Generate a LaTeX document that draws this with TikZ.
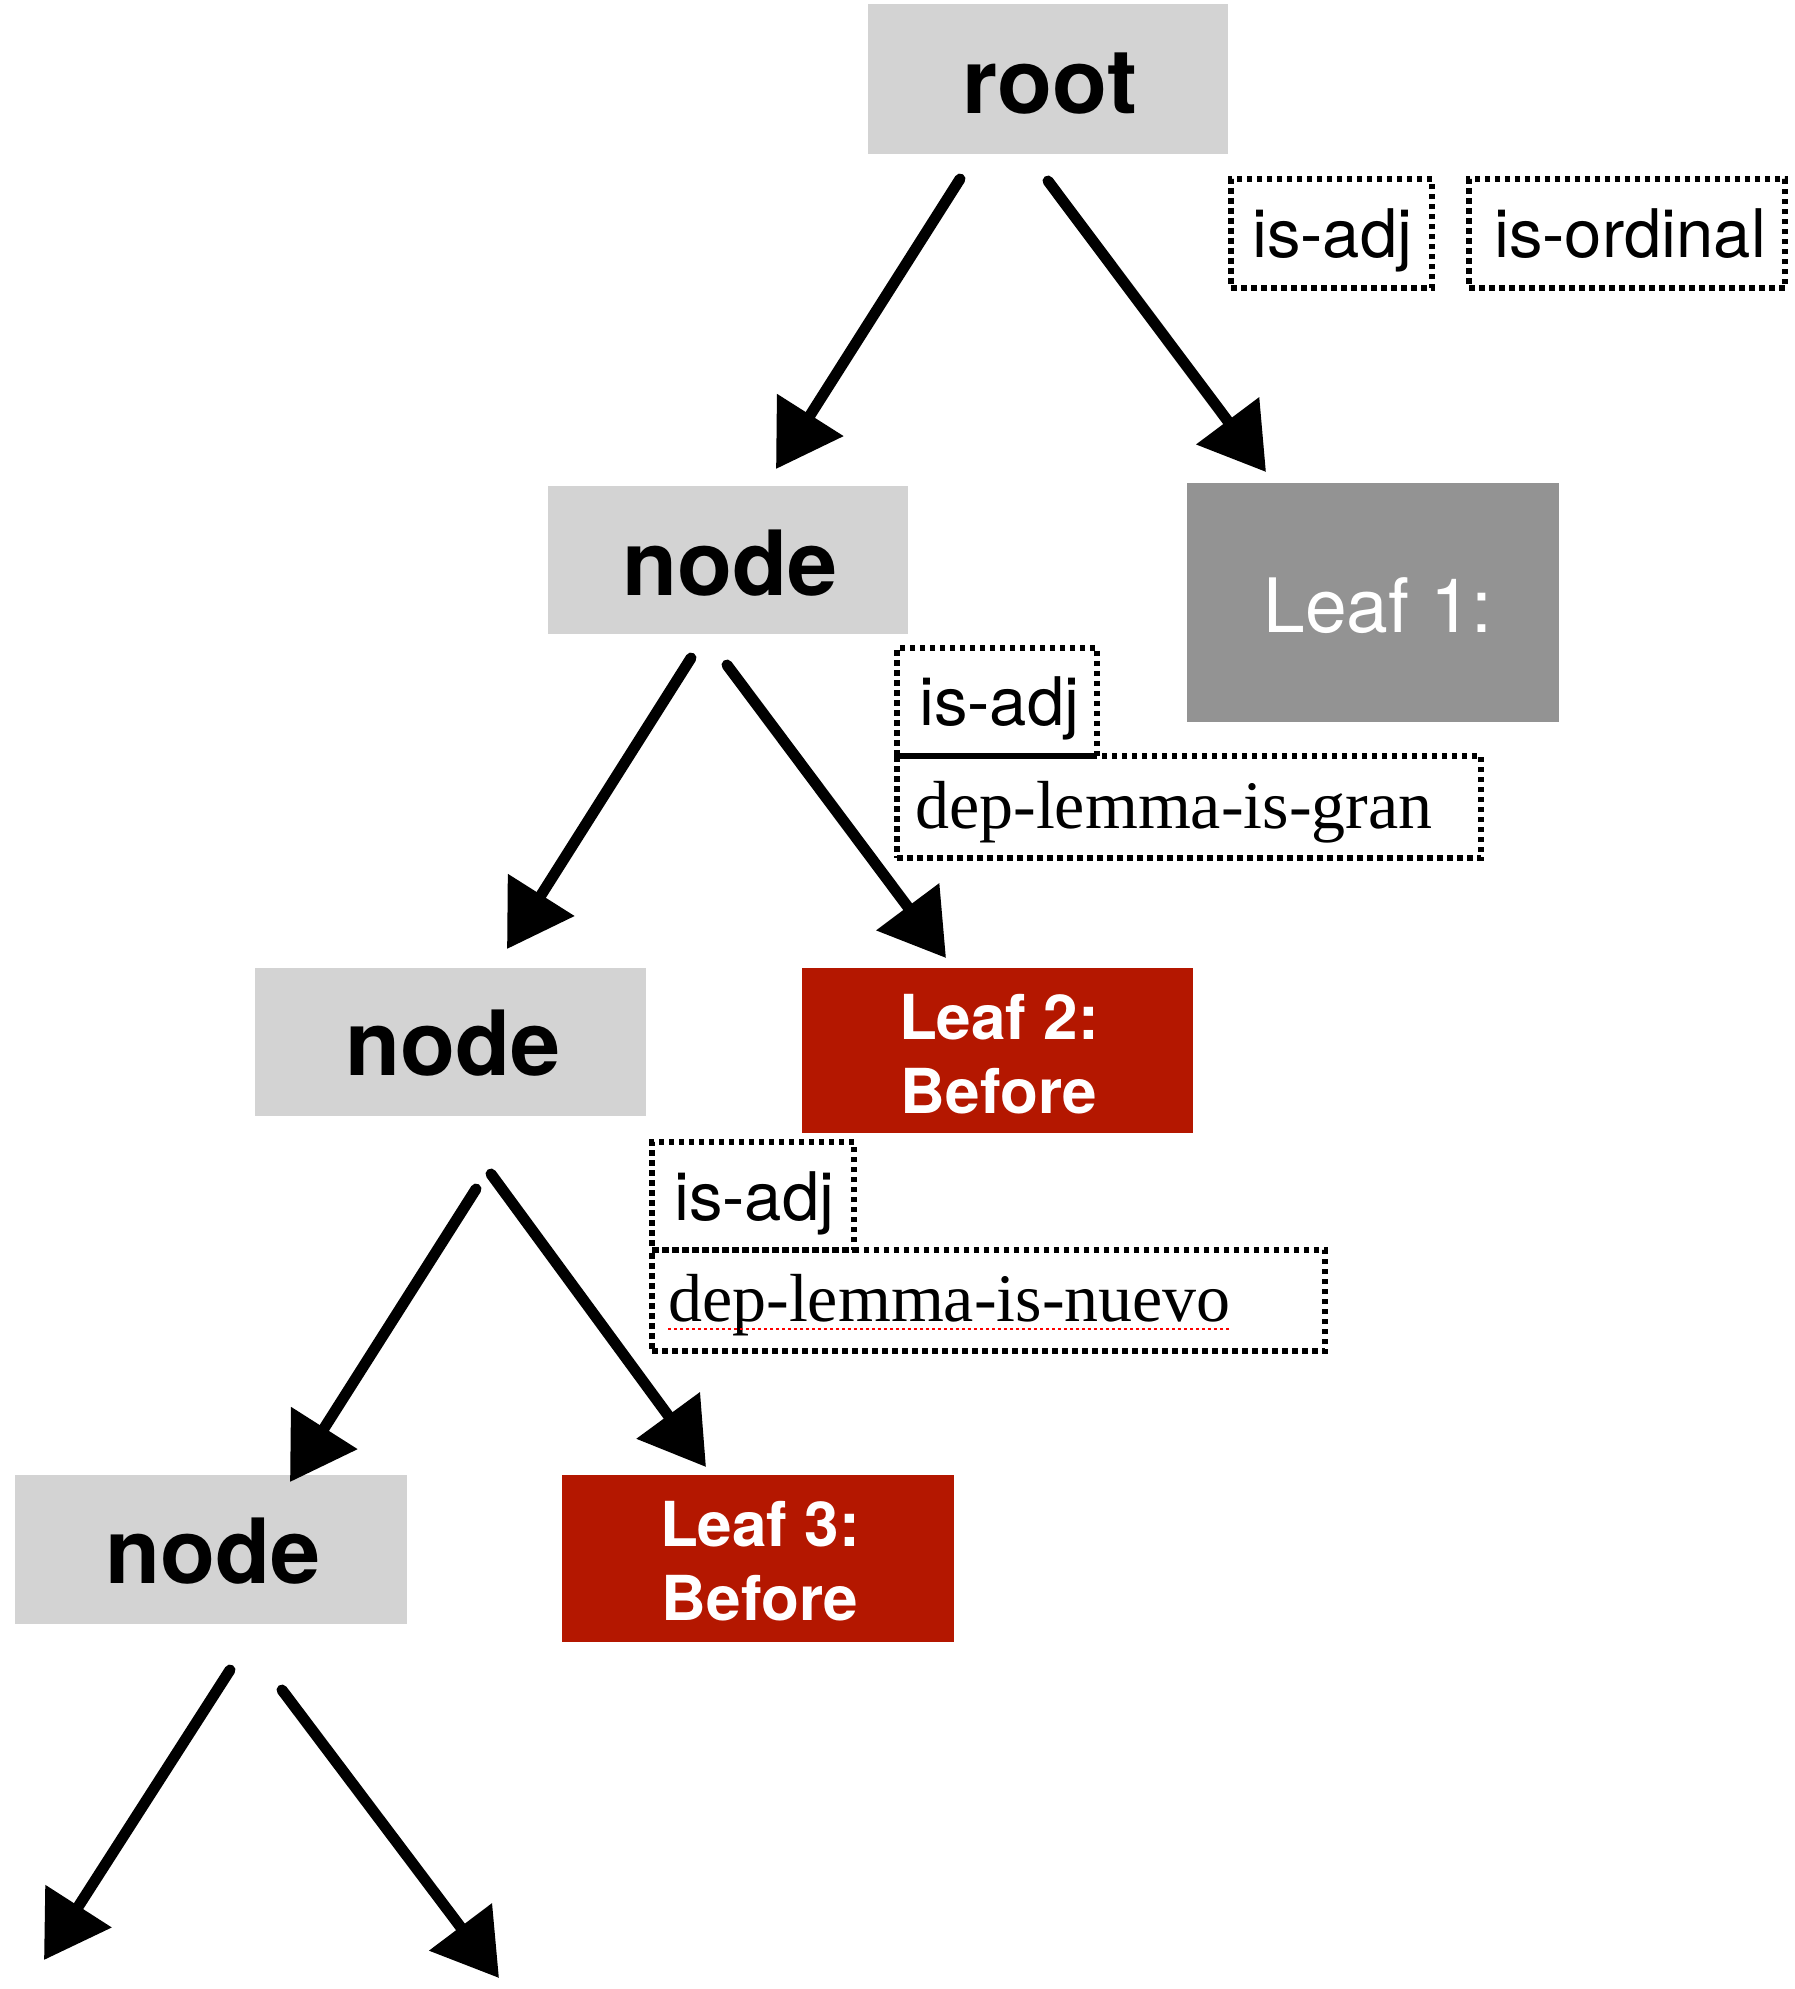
\documentclass[tikz,border=0pt]{standalone}
\usepackage{fontspec}
\setmainfont{TeX Gyre Heros}
\newfontfamily\seriffont{Liberation Serif}
\usetikzlibrary{arrows.meta}
\definecolor{boxgray}{RGB}{211,211,211}
\definecolor{leafgray}{RGB}{147,147,147}
\definecolor{leafred}{RGB}{180,23,0}
\tikzset{
  rectbox/.style 2 args={minimum width=#1, minimum height=#2, inner sep=0pt, outer sep=0pt, anchor=north west},
  gbox/.style={fill=boxgray, draw=none},
  lgbox/.style={fill=leafgray, draw=none},
  rbox/.style={fill=leafred, draw=none},
  dbox/.style={draw=black, line width=5.5pt, dash pattern=on 5.5pt off 4.5pt},
  bigtxt/.style={font=\fontsize{90}{100}\selectfont\bfseries, inner sep=0pt, anchor=base},
  leaftxt/.style={font=\fontsize{62}{74}\selectfont\bfseries, text=white, align=center, inner sep=0pt, anchor=center},
  leafonetxt/.style={font=\fontsize{75}{85}\selectfont, text=white, inner sep=0pt, anchor=base},
  labtxt/.style={font=\fontsize{67}{80}\selectfont, inner sep=0pt, anchor=base west},
  sertxt/.style={font=\seriffont\fontsize{68}{80}\selectfont, inner sep=0pt, anchor=base west},
  arr/.style={line width=11pt, line cap=round, -{Triangle[length=64pt,width=76pt]}, black}
}
\begin{document}
\begin{tikzpicture}[x=1pt,y=-1pt]
\useasboundingbox (0,0) rectangle (1794,1989);
% boxes
\node[rectbox={360pt}{150pt}, gbox] (root) at (868,4) {};
\node[bigtxt] (roottxt) at (1050,113) {root};
\node[rectbox={201pt}{109pt}, dbox] (isadj1) at (1231,179) {};
\node[labtxt] (isadj1txt) at (1252,257) {is-adj};
\node[rectbox={316pt}{109pt}, dbox] (isord) at (1469,179) {};
\node[labtxt] (isordtxt) at (1494,257) {is-ordinal};

\node[rectbox={360pt}{148pt}, gbox] (node1) at (548,486) {};
\node[bigtxt] (node1txt) at (730,595) {node};
\node[rectbox={372pt}{239pt}, lgbox] (leaf1) at (1187,483) {};
\node[leafonetxt] (leaf1txt) at (1378,632) {Leaf 1:};
\node[rectbox={200pt}{108pt}, dbox] (isadj2) at (897,648) {};
\node[labtxt] (isadj2txt) at (919,725) {is-adj};
\node[rectbox={584pt}{102pt}, dbox] (gran) at (897,756) {};
\node[sertxt] (grantxt) at (915,828) {dep-lemma-is-gran};

\node[rectbox={391pt}{148pt}, gbox] (node2) at (255,968) {};
\node[bigtxt] (node2txt) at (453,1075) {node};
\node[rectbox={391pt}{165pt}, rbox] (leaf2) at (802,968) {};
\node[leaftxt] (leaf2txt) at (999,1054) {Leaf 2:\\Before};
\node[rectbox={202pt}{108pt}, dbox] (isadj3) at (652,1142) {};
\node[labtxt] (isadj3txt) at (674,1220) {is-adj};
\node[rectbox={673pt}{101pt}, dbox] (nuevo) at (652,1250) {};
\node[sertxt] (nuevotxt) at (668,1321) {dep-lemma-is-nuevo};
\draw[red, line width=2pt, dash pattern=on 3pt off 3pt] ([yshift=-8pt]nuevotxt.base west) -- ([yshift=-8pt]nuevotxt.base east);

\node[rectbox={392pt}{149pt}, gbox] (node3) at (15,1475) {};
\node[bigtxt] (node3txt) at (213,1583) {node};
\node[rectbox={392pt}{167pt}, rbox] (leaf3) at (562,1475) {};
\node[leaftxt] (leaf3txt) at (760,1561) {Leaf 3:\\Before};

% arrows
\coordinate (a1s) at (960,179);  \coordinate (a1e) at (776,469);
\coordinate (a2s) at (1048,181); \coordinate (a2e) at (1266,472);
\coordinate (a3s) at (691,658);  \coordinate (a3e) at (507,949);
\coordinate (a4s) at (727,665);  \coordinate (a4e) at (946,958);
\coordinate (a5s) at (476,1189); \coordinate (a5e) at (290,1482);
\coordinate (a6s) at (491,1174); \coordinate (a6e) at (706,1467);
\coordinate (a7s) at (230,1670); \coordinate (a7e) at (44,1960);
\coordinate (a8s) at (282,1690); \coordinate (a8e) at (499,1978);
\foreach \i in {1,...,8} {\draw[arr] (a\i s) -- (a\i e);}
\end{tikzpicture}
\end{document}
